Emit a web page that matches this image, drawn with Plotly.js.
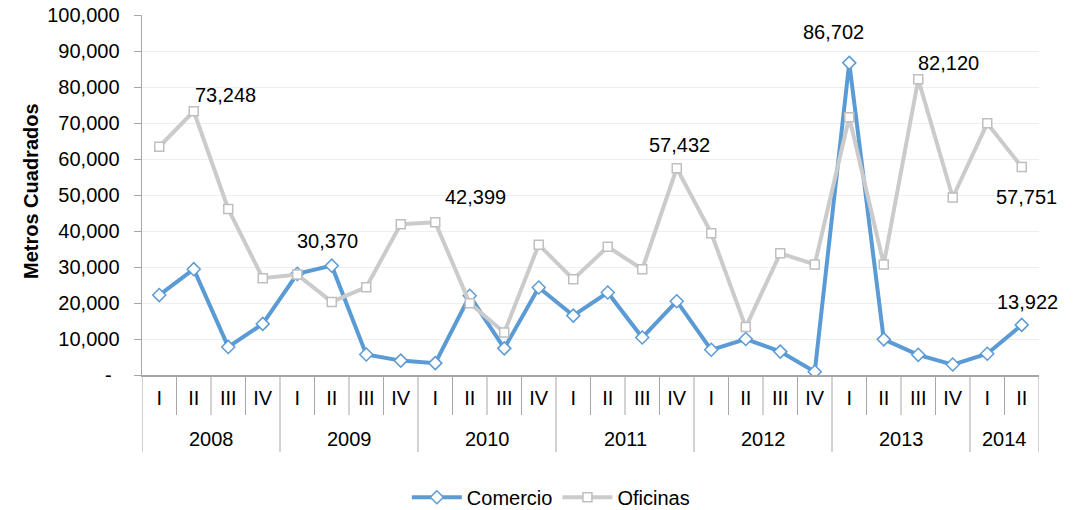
<!DOCTYPE html>
<html>
<head>
<meta charset="utf-8">
<script src="https://cdn.plot.ly/plotly-3.0.1.min.js"></script>
<style>html,body{margin:0;padding:0;background:#fff;}#chart{width:1078px;height:510px;}</style>
</head>
<body>
<div id="chart"></div>
<script>
const years = ["2008","2008","2008","2008","2009","2009","2009","2009","2010","2010","2010","2010","2011","2011","2011","2011","2012","2012","2012","2012","2013","2013","2013","2013","2014","2014"];
const quarters = ["I","II","III","IV","I","II","III","IV","I","II","III","IV","I","II","III","IV","I","II","III","IV","I","II","III","IV","I","II"];
const comercio = [22200,29400,7800,14200,28100,30370,5700,4000,3300,22000,7400,24300,16500,22900,10400,20500,7000,10000,6500,900,86702,9900,5600,2900,5900,13922];
const oficinas = [63400,73248,46100,26900,27900,20300,24400,41900,42399,19900,11800,36200,26600,35600,29400,57432,39400,13300,33800,30700,71600,30700,82120,49300,69900,57751];
const yTickVals = [0,10000,20000,30000,40000,50000,60000,70000,80000,90000,100000];
const yTickText = ["-","10,000","20,000","30,000","40,000","50,000","60,000","70,000","80,000","90,000","100,000"];
// data labels: [series, index, xshift, yshift]
const labelSpecs = [
  ["oficinas",1,32,-16],["comercio",5,-4,-25],["oficinas",8,40,-25],["oficinas",15,3,-23],
  ["comercio",20,-16,-31],["oficinas",22,30,-16],["oficinas",25,5,30],["comercio",25,6,-23]
];

const FONT = "Liberation Sans, Arial, sans-serif";
const AX = "#A6A6A6";
const series = {comercio, oficinas};
const fmt = v => v.toLocaleString("en-US");
const idx = quarters.map((q,i) => i);

const PLOT_H = 360;           // plot area height in px (510 - 15 - 135)
const px = p => p / PLOT_H;   // px -> paper units

const traces = [
  {name:"Comercio", x:idx, y:comercio, type:"scatter", mode:"lines+markers",
   line:{color:"#5B9BD5", width:4},
   marker:{symbol:"diamond", size:10, color:"#ffffff", line:{color:"#5B9BD5", width:1.5}}},
  {name:"Oficinas", x:idx, y:oficinas, type:"scatter", mode:"lines+markers",
   line:{color:"#CBCBCB", width:4},
   marker:{symbol:"square", size:9, color:"#ffffff", line:{color:"#BFBFBF", width:1.5}}}
];

const annotations = labelSpecs.map(([s,i,dx,dy]) => ({
  x:i, y:series[s][i], xref:"x", yref:"y", text:fmt(series[s][i]), showarrow:false,
  xshift:dx, yshift:-dy, font:{family:FONT, size:20, color:"#000"}
}));

// year group labels and dividers
const shapes = [];
const groups = [];
years.forEach((y,i) => {
  if (i === 0 || years[i-1] !== y) groups.push({year:y, start:i, end:i});
  else groups[groups.length-1].end = i;
});
groups.forEach(g => {
  annotations.push({x:(g.start+g.end)/2, y:-px(64), xref:"x", yref:"paper", yanchor:"middle",
    text:g.year, showarrow:false, font:{family:FONT, size:20, color:"#000"}});
});
// boundaries
for (let b = 0; b <= quarters.length; b++) {
  const isYear = b === 0 || b === quarters.length || years[b] !== years[b-1];
  shapes.push({type:"line", xref:"x", yref:"paper", x0:b-0.5, x1:b-0.5, y0:0, y1:-px(isYear ? 77 : 40),
    line:{color:AX, width:1}});
}
// y-axis title
annotations.push({x:0, xref:"paper", xshift:-124, y:0.5, yref:"paper", yshift:4, textangle:-90,
  text:"<b>Metros Cuadrados</b>", showarrow:false, font:{family:FONT, size:20, color:"#000"}});
// zero tick label (accounting-style dash, offset left)
annotations.push({x:0, xref:"paper", xshift:-39, y:yTickVals[0], yref:"y", text:yTickText[0],
  showarrow:false, font:{family:FONT, size:20, color:"#000"}});
const yTickTextAxis = yTickText.map((t,i) => i === 0 ? "" : t);

const layout = {
  width:1078, height:510,
  margin:{l:142, r:39, t:15, b:135},
  paper_bgcolor:"#fff", plot_bgcolor:"#fff",
  font:{family:FONT, size:20, color:"#000"},
  showlegend:true,
  legend:{orientation:"h", xref:"container", x:0.511, xanchor:"center", yref:"container", y:0.025, yanchor:"middle",
    font:{size:20}, itemwidth:50},
  xaxis:{range:[-0.5, quarters.length-0.5], tickvals:idx, ticktext:quarters,
    showline:true, linecolor:AX, linewidth:1.5, ticks:"", ticklabelstandoff:4,
    showgrid:false, zeroline:false, tickfont:{size:20}},
  yaxis:{range:[0,100000], tickvals:yTickVals, ticktext:yTickTextAxis,
    showline:true, linecolor:AX, linewidth:1.5, ticks:"outside", ticklen:7, tickcolor:AX,
    ticklabelstandoff:10,
    showgrid:true, gridcolor:"#EFEFEF", gridwidth:1, zeroline:false, tickfont:{size:20}},
  annotations, shapes
};

Plotly.newPlot("chart", traces, layout, {displayModeBar:false, staticPlot:true});
</script>
</body>
</html>
